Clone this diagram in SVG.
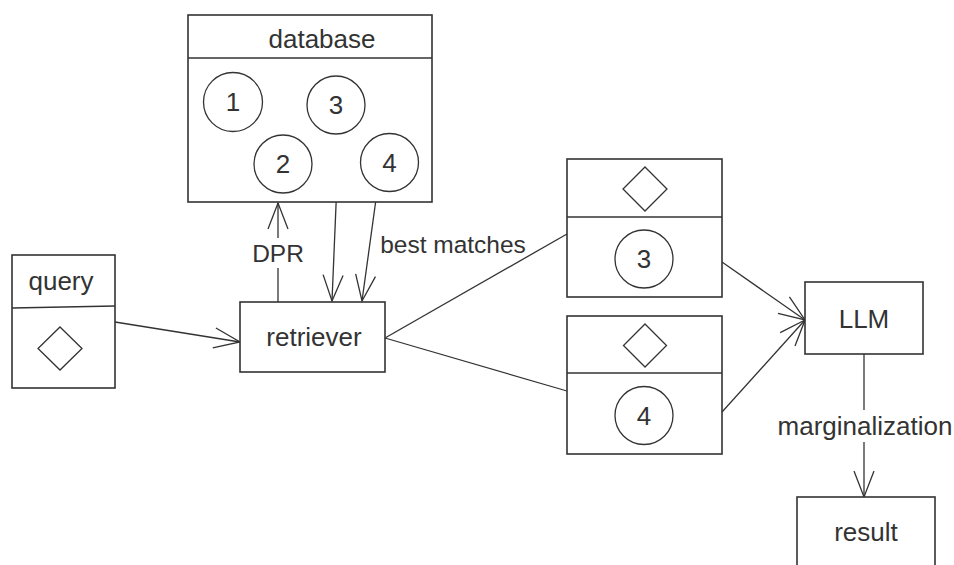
<svg xmlns="http://www.w3.org/2000/svg" width="954" height="565" viewBox="0 0 954 565">
  <defs>
    <style>
      .box { fill: #ffffff; stroke: #333333; stroke-width: 1.6; }
      .sep { fill: none; stroke: #333333; stroke-width: 1.6; }
      .shape { fill: none; stroke: #333333; stroke-width: 1.3; }
      .edge { fill: none; stroke: #333333; stroke-width: 1.3; }
      .lbl { font-family: "Liberation Sans", Arial, sans-serif; font-size: 26px; fill: #333333; text-anchor: middle; }
      .elbl { font-family: "Liberation Sans", Arial, sans-serif; font-size: 24.5px; fill: #333333; text-anchor: middle; }
    </style>
    <marker id="open" viewBox="0 0 30 24" refX="28" refY="12" markerWidth="30" markerHeight="24" markerUnits="userSpaceOnUse" orient="auto">
      <path d="M2,2 L28,12 L2,22" fill="none" stroke="#333333" stroke-width="1.3"/>
    </marker>
  </defs>
  <rect width="954" height="565" fill="#ffffff"/>

  <!-- connectors -->
  <g id="connectors">
    <!-- DPR: retriever up to database -->
    <line class="edge" x1="278" y1="302" x2="278" y2="268"/>
    <line class="edge" x1="278" y1="238" x2="278" y2="203" marker-end="url(#open)"/>
    <!-- database items to retriever -->
    <line class="edge" x1="339" y1="134" x2="332" y2="301" marker-end="url(#open)"/>
    <line class="edge" x1="377" y1="192" x2="362" y2="301" marker-end="url(#open)"/>
    <!-- query to retriever -->
    <line class="edge" x1="115" y1="322" x2="240" y2="342" marker-end="url(#open)"/>
    <!-- retriever to matches -->
    <line class="edge" x1="385" y1="338" x2="567" y2="234"/>
    <line class="edge" x1="385" y1="338" x2="567" y2="391"/>
    <!-- matches to LLM -->
    <line class="edge" x1="722" y1="262" x2="805" y2="320" marker-end="url(#open)"/>
    <line class="edge" x1="722" y1="412" x2="805" y2="320" marker-end="url(#open)"/>
    <!-- LLM to result -->
    <line class="edge" x1="864" y1="354" x2="864" y2="410"/>
    <line class="edge" x1="864" y1="442" x2="864" y2="497" marker-end="url(#open)"/>
    <!-- edge labels -->
    <text class="elbl" x="278" y="262">DPR</text>
    <text class="elbl" x="453" y="253">best matches</text>
    <text class="lbl" x="865" y="435">marginalization</text>
  </g>

  <!-- database -->
  <g id="database">
    <rect class="box" x="188" y="15" width="244" height="187"/>
    <line class="sep" x1="188" y1="58" x2="432" y2="58"/>
    <text class="lbl" x="322" y="48">database</text>
    <circle class="shape" cx="233" cy="102" r="29.5"/>
    <text class="lbl" x="233" y="111">1</text>
    <circle class="shape" cx="336" cy="105" r="29"/>
    <text class="lbl" x="336" y="114">3</text>
    <circle class="shape" cx="283" cy="164" r="29"/>
    <text class="lbl" x="283" y="173">2</text>
    <circle class="shape" cx="389.5" cy="162.5" r="29"/>
    <text class="lbl" x="389.5" y="171.5">4</text>
  </g>

  <!-- query -->
  <g id="query">
    <rect class="box" x="12" y="255" width="103" height="133"/>
    <line class="sep" x1="12" y1="308" x2="115" y2="306"/>
    <text class="lbl" x="61" y="290">query</text>
    <polygon class="shape" points="60,327 82,348.5 60,370 38,348.5"/>
  </g>

  <!-- retriever -->
  <g id="retriever">
    <rect class="box" x="240" y="302" width="145" height="70"/>
    <text class="lbl" x="314" y="346">retriever</text>
  </g>

  <!-- match 3 -->
  <g id="match3">
    <rect class="box" x="567" y="159" width="155" height="138"/>
    <line class="sep" x1="567" y1="217" x2="722" y2="217"/>
    <polygon class="shape" points="645,167 667,189 645,211 623,189"/>
    <circle class="shape" cx="644" cy="259" r="29"/>
    <text class="lbl" x="644" y="268">3</text>
  </g>

  <!-- match 4 -->
  <g id="match4">
    <rect class="box" x="567" y="316" width="155" height="138"/>
    <line class="sep" x1="567" y1="373" x2="722" y2="373"/>
    <polygon class="shape" points="645,324 666.5,345.5 645,367 623.5,345.5"/>
    <circle class="shape" cx="644" cy="415.5" r="29"/>
    <text class="lbl" x="644" y="424.5">4</text>
  </g>

  <!-- LLM -->
  <g id="llm">
    <rect class="box" x="805" y="282" width="118" height="72"/>
    <text class="lbl" x="864" y="328">LLM</text>
  </g>

  <!-- result -->
  <g id="result">
    <rect class="box" x="797" y="497" width="138" height="90"/>
    <text class="lbl" x="866" y="541">result</text>
  </g>
</svg>
